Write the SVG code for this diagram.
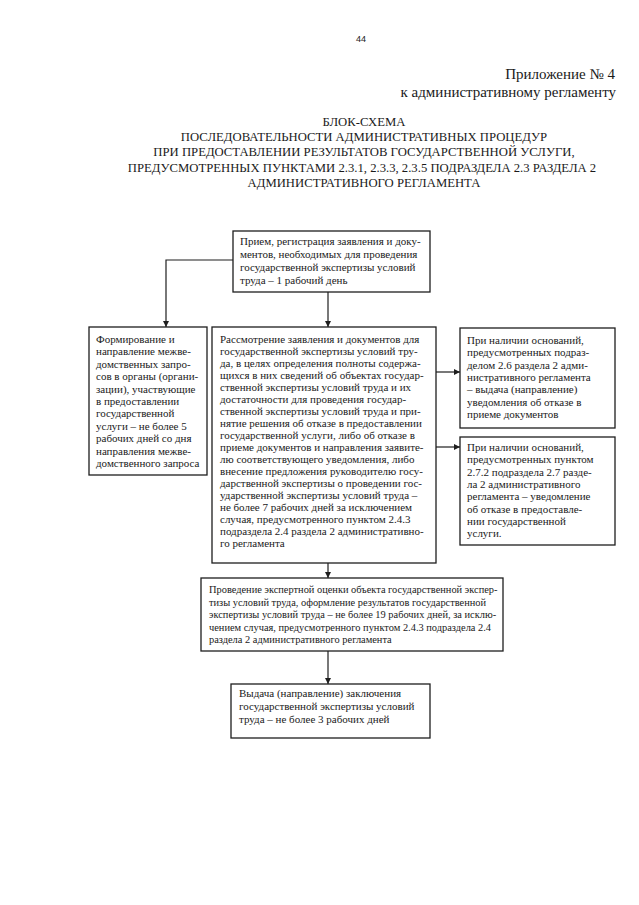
<svg xmlns="http://www.w3.org/2000/svg" width="639" height="905" viewBox="0 0 639 905">
<style>
.bg{fill:#ffffff}
.box{fill:#ffffff;stroke:#1e1e1e;stroke-width:1.3}
.t{font-family:"Liberation Serif","Times New Roman",serif;font-size:11px;fill:#1a1a1a}
.te{font-family:"Liberation Serif","Times New Roman",serif;font-size:10.4px;fill:#1a1a1a}
.h{font-family:"Liberation Serif","Times New Roman",serif;font-size:12.7px;fill:#1a1a1a;text-anchor:middle}
.app{font-family:"Liberation Serif","Times New Roman",serif;font-size:15px;fill:#1a1a1a;text-anchor:end}
.pn{font-family:"Liberation Sans",Arial,sans-serif;font-size:9px;fill:#1a1a1a;text-anchor:middle}
.ln{fill:none;stroke:#1e1e1e;stroke-width:1.2}
</style>
<defs>
<marker id="ar" viewBox="0 0 10 10" refX="10" refY="5" markerWidth="6" markerHeight="6" markerUnits="userSpaceOnUse" orient="auto">
<path d="M0,0 L10,5 L0,10 z" fill="#1e1e1e"/>
</marker>
</defs>
<rect class="bg" x="0" y="0" width="639" height="905"/>

<text class="pn" x="361" y="42">44</text>
<text class="app" x="615" y="79">Приложение № 4</text>
<text class="app" x="616" y="97">к административному регламенту</text>

<g id="title">
<text class="h" x="364" y="126">БЛОК-СХЕМА</text>
<text class="h" x="364" y="141">ПОСЛЕДОВАТЕЛЬНОСТИ АДМИНИСТРАТИВНЫХ ПРОЦЕДУР</text>
<text class="h" x="364" y="156">ПРИ ПРЕДОСТАВЛЕНИИ РЕЗУЛЬТАТОВ ГОСУДАРСТВЕННОЙ УСЛУГИ,</text>
<text class="h" x="362" y="172">ПРЕДУСМОТРЕННЫХ ПУНКТАМИ 2.3.1, 2.3.3, 2.3.5 ПОДРАЗДЕЛА 2.3 РАЗДЕЛА 2</text>
<text class="h" x="364" y="187">АДМИНИСТРАТИВНОГО РЕГЛАМЕНТА</text>
</g>

<g id="connectors">
<polyline class="ln" points="233,260 166,260 166,327" marker-end="url(#ar)"/>
<line class="ln" x1="328" y1="292" x2="328" y2="327" marker-end="url(#ar)"/>
<line class="ln" x1="436" y1="372" x2="460" y2="372" marker-end="url(#ar)"/>
<line class="ln" x1="436" y1="447" x2="460" y2="447" marker-end="url(#ar)"/>
<line class="ln" x1="328" y1="563" x2="328" y2="578" marker-end="url(#ar)"/>
<line class="ln" x1="328" y1="651" x2="328" y2="684" marker-end="url(#ar)"/>
</g>

<g id="n_reception">
<rect class="box" x="233" y="231" width="197" height="61"/>
<text class="t" x="240" y="245">Прием, регистрация заявления и доку-</text>
<text class="t" x="240" y="258">ментов, необходимых для проведения</text>
<text class="t" x="240" y="271">государственной экспертизы условий</text>
<text class="t" x="240" y="284">труда – 1 рабочий день</text>
</g>

<g id="n_requests">
<rect class="box" x="89" y="327" width="118" height="148"/>
<text class="t" x="96" y="343">Формирование и</text>
<text class="t" x="96" y="355.4">направление межве-</text>
<text class="t" x="96" y="367.8">домственных запро-</text>
<text class="t" x="96" y="380.2">сов в органы (органи-</text>
<text class="t" x="96" y="392.6">зации), участвующие</text>
<text class="t" x="96" y="405">в предоставлении</text>
<text class="t" x="96" y="417.4">государственной</text>
<text class="t" x="96" y="429.8">услуги – не более 5</text>
<text class="t" x="96" y="442.2">рабочих дней со дня</text>
<text class="t" x="96" y="454.6">направления межве-</text>
<text class="t" x="96" y="467">домственного запроса</text>
</g>

<g id="n_review">
<rect class="box" x="212" y="327" width="224" height="236"/>
<text class="t" x="220" y="343">Рассмотрение заявления и документов для</text>
<text class="t" x="220" y="355">государственной экспертизы условий тру-</text>
<text class="t" x="220" y="367">да, в целях определения полноты содержа-</text>
<text class="t" x="220" y="379">щихся в них сведений об объектах государ-</text>
<text class="t" x="220" y="391">ственной экспертизы условий труда и их</text>
<text class="t" x="220" y="403">достаточности для проведения государ-</text>
<text class="t" x="220" y="415">ственной экспертизы условий труда и при-</text>
<text class="t" x="220" y="427">нятие решения об отказе в предоставлении</text>
<text class="t" x="220" y="439">государственной услуги, либо об отказе в</text>
<text class="t" x="220" y="451">приеме документов и направления заявите-</text>
<text class="t" x="220" y="463">лю соответствующего уведомления, либо</text>
<text class="t" x="220" y="475">внесение предложения руководителю госу-</text>
<text class="t" x="220" y="487">дарственной экспертизы о проведении гос-</text>
<text class="t" x="220" y="499">ударственной экспертизы условий труда –</text>
<text class="t" x="220" y="511">не более 7 рабочих дней за исключением</text>
<text class="t" x="220" y="523">случая, предусмотренного пунктом 2.4.3</text>
<text class="t" x="220" y="535">подраздела 2.4 раздела 2 административно-</text>
<text class="t" x="220" y="547">го регламента</text>
</g>

<g id="n_refuse_docs">
<rect class="box" x="460" y="328" width="155" height="100"/>
<text class="t" x="467" y="344">При наличии оснований,</text>
<text class="t" x="467" y="356.3">предусмотренных подраз-</text>
<text class="t" x="467" y="368.6">делом 2.6 раздела 2 адми-</text>
<text class="t" x="467" y="380.9">нистративного регламента</text>
<text class="t" x="467" y="393.2">– выдача (направление)</text>
<text class="t" x="467" y="405.5">уведомления об отказе в</text>
<text class="t" x="467" y="417.8">приеме документов</text>
</g>

<g id="n_refuse_service">
<rect class="box" x="460" y="437" width="155" height="108"/>
<text class="t" x="467" y="451">При наличии оснований,</text>
<text class="t" x="467" y="463.3">предусмотренных пунктом</text>
<text class="t" x="467" y="475.6">2.7.2 подраздела 2.7 разде-</text>
<text class="t" x="467" y="487.9">ла 2 административного</text>
<text class="t" x="467" y="500.2">регламента – уведомление</text>
<text class="t" x="467" y="512.5">об отказе в предоставле-</text>
<text class="t" x="467" y="524.8">нии государственной</text>
<text class="t" x="467" y="537.1">услуги.</text>
</g>

<g id="n_evaluation">
<rect class="box" x="201" y="578" width="302" height="73"/>
<text class="te" x="209" y="593">Проведение экспертной оценки объекта государственной экспер-</text>
<text class="te" x="209" y="605.5">тизы условий труда, оформление результатов государственной</text>
<text class="te" x="209" y="618">экспертизы условий труда – не более 19 рабочих дней, за исклю-</text>
<text class="te" x="209" y="630.5">чением случая, предусмотренного пунктом 2.4.3 подраздела 2.4</text>
<text class="te" x="209" y="643">раздела 2 административного регламента</text>
</g>

<g id="n_issue">
<rect class="box" x="231" y="684" width="199" height="54"/>
<text class="t" x="239" y="697">Выдача (направление) заключения</text>
<text class="t" x="239" y="710">государственной экспертизы условий</text>
<text class="t" x="239" y="723">труда – не более 3 рабочих дней</text>
</g>
</svg>
